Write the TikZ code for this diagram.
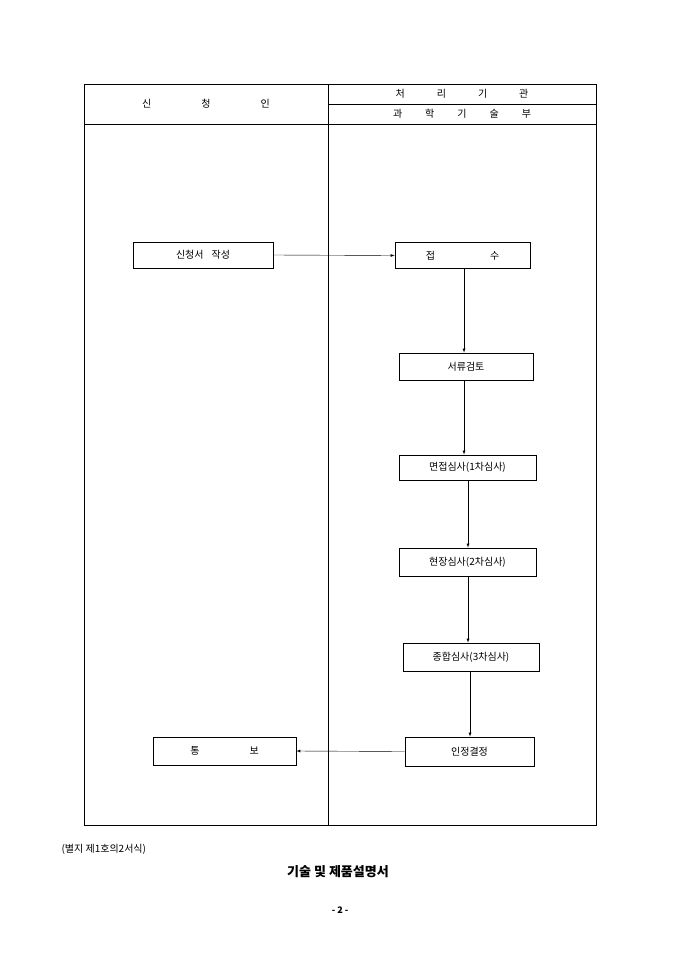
\documentclass[tikz,border=0pt]{standalone}
\usepackage{fontspec}
\setmainfont{Noto Sans CJK KR}
\begin{document}
\begin{tikzpicture}[x=1pt,y=-1pt,
  bx/.style={draw,thick,minimum height=26pt,font=\fontsize{10}{12}\selectfont,inner sep=0pt},
  ar/.style={-latex,thin},
  tx/.style={font=\fontsize{10}{12}\selectfont}]
\useasboundingbox (0,0) rectangle (680,962);
\draw[thick] (84,84) rectangle (596,825);
\draw[thick] (84,124) -- (596,124);
\draw[thick] (328,84) -- (328,825);
\draw (328,104) -- (596,104);
\node[tx] (h1) at (206,104) {신\hspace{50pt}청\hspace{50pt}인};
\node[tx] (h2) at (462,94) {처\hspace{32pt}리\hspace{32pt}기\hspace{32pt}관};
\node[tx] (h3) at (462,114) {과\hspace{23pt}학\hspace{23pt}기\hspace{23pt}술\hspace{23pt}부};
\node[bx,minimum width=140pt] (a) at (203,255) {신청서\hspace{8pt}작성};
\node[bx,minimum width=135pt] (b) at (462.5,255.5) {접\hspace{55pt}수};
\node[bx,minimum width=134pt,minimum height=27pt] (c) at (466,366.5) {서류검토};
\node[bx,minimum width=137pt,minimum height=25pt] (d) at (467.5,467.5) {면접심사(1차심사)};
\node[bx,minimum width=137pt,minimum height=28pt] (e) at (467.5,562) {현장심사(2차심사)};
\node[bx,minimum width=136pt,minimum height=28pt] (f) at (471,657) {종합심사(3차심사)};
\node[bx,minimum width=129pt,minimum height=29pt] (g) at (469.5,751.5) {인정결정};
\node[bx,minimum width=143pt,minimum height=28pt] (h) at (224.5,751) {통\hspace{50pt}보};
\draw[ar] (a.east) -- (b.west);
\draw[ar] (b.south -| 464,0) -- (c.north -| 464,0);
\draw[ar] (c.south -| 464,0) -- (d.north -| 464,0);
\draw[ar] (d.south -| 468,0) -- (e.north -| 468,0);
\draw[ar] (e.south -| 468,0) -- (f.north -| 468,0);
\draw[ar] (f.south -| 470,0) -- (g.north -| 470,0);
\draw[ar] (g.west) -- (h.east);
\node[tx,anchor=west] (n1) at (58,849) {(별지 제1호의2서식)};
\node[font=\fontsize{13}{15}\selectfont\bfseries] (n2) at (338,872) {기술 및 제품설명서};
\node[font=\fontsize{9}{11}\selectfont\bfseries] (n3) at (340,910) {- 2 -};
\end{tikzpicture}
\end{document}
